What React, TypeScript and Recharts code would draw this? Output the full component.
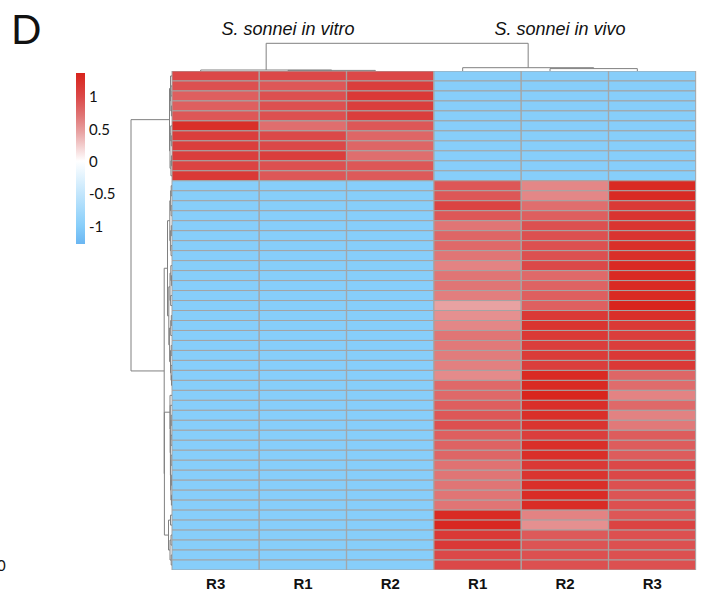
import { BarChart, Bar, XAxis, YAxis, Cell } from "recharts";

// columns of the heatmap (left to right)
const columnKeys = ["vitroR3", "vitroR1", "vitroR2", "vivoR1", "vivoR2", "vivoR3"];
const columnLabels = ["R3", "R1", "R2", "R1", "R2", "R3"];
const groupTitles = ["S. sonnei in vitro", "S. sonnei in vivo"];
const legendTicks = [1, 0.5, 0, -0.5, -1];

// scaled expression per gene row (50 rows, top to bottom)
const vitroR3 = [
  1.0, 0.95, 0.85, 0.85, 0.9, 1.25, 1.1, 1.1, 1.1, 1.05, 1.15,
  -1, -1, -1, -1, -1, -1, -1, -1, -1, -1, -1, -1, -1, -1, -1, -1, -1, -1, -1, -1,
  -1, -1, -1, -1, -1, -1, -1, -1, -1, -1, -1, -1, -1, -1, -1, -1, -1, -1, -1,
];
const vitroR1 = [
  1.0, 0.9, 0.95, 0.95, 0.95, 0.75, 1.0, 1.0, 1.1, 0.95, 0.9,
  -1, -1, -1, -1, -1, -1, -1, -1, -1, -1, -1, -1, -1, -1, -1, -1, -1, -1, -1, -1,
  -1, -1, -1, -1, -1, -1, -1, -1, -1, -1, -1, -1, -1, -1, -1, -1, -1, -1, -1,
];
const vitroR2 = [
  1.0, 1.1, 1.15, 1.1, 1.1, 0.9, 0.8, 0.8, 0.75, 0.9, 0.88,
  -1, -1, -1, -1, -1, -1, -1, -1, -1, -1, -1, -1, -1, -1, -1, -1, -1, -1, -1, -1,
  -1, -1, -1, -1, -1, -1, -1, -1, -1, -1, -1, -1, -1, -1, -1, -1, -1, -1, -1,
];
const vivoR1 = [
  -1, -1, -1, -1, -1, -1, -1, -1, -1, -1, -1,
  0.9, 0.9, 1.05, 0.9, 0.7, 0.8, 0.78, 0.7, 0.62, 0.7,
  0.7, 0.65, 0.45, 0.55, 0.6, 0.7, 0.68, 0.66, 0.64, 0.58,
  0.78, 0.78, 0.85, 0.9, 0.95, 0.85, 0.82, 0.8, 0.72, 0.7,
  0.7, 0.7, 0.7, 1.3, 1.32, 1.15, 1.15, 1.0, 1.0,
];
const vivoR2 = [
  -1, -1, -1, -1, -1, -1, -1, -1, -1, -1, -1,
  0.6, 0.6, 0.75, 0.85, 0.95, 0.95, 0.95, 0.95, 1.0, 0.78,
  0.82, 0.85, 0.84, 1.15, 1.2, 1.15, 1.1, 1.12, 1.1, 1.3,
  1.3, 1.35, 1.25, 1.25, 1.2, 1.1, 1.25, 1.25, 1.15, 1.2,
  1.25, 1.28, 1.28, 0.62, 0.55, 0.88, 0.92, 0.95, 0.95,
];
const vivoR3 = [
  -1, -1, -1, -1, -1, -1, -1, -1, -1, -1, -1,
  1.3, 1.3, 1.15, 1.2, 1.2, 1.2, 1.25, 1.25, 1.3, 1.3,
  1.3, 1.3, 1.35, 1.25, 1.15, 1.1, 1.1, 1.15, 1.15, 0.8,
  0.76, 0.62, 0.78, 0.63, 0.68, 0.87, 0.87, 0.87, 1.0, 1.0,
  0.95, 0.92, 0.95, 0.9, 1.05, 0.95, 0.95, 0.95, 0.95,
];
const columnValues = [vitroR3, vitroR1, vitroR2, vivoR1, vivoR2, vivoR3];
const ROWS = vitroR3.length;

// dendrograms: [height, left, right], leaves are row / column indices
type Node = number | [number, Node, Node];
const colTree: Node = [27.7, [1.0, 0, [0.6, 1, 2]], [3.3, 3, [2.4, 4, 5]]];
const rowTree: Node = [
  41,
  [2.5,
    [1.5, 0, [1.2, [1.0, 1, 2], [0.6, 3, 4]]],
    [2.0, [1.3, 5, [0.7, 6, 7]], [1.1, [0.6, 8, 9], 10]]],
  [7.8,
    [4.5,
      [2.2, [1.4, [0.8, 11, 12], [0.9, 13, 14]], [1.6, [0.7, 15, 16], [1.0, 17, 18]]],
      [3.2,
        [2.0, [1.2, 19, [0.6, 20, 21]], [1.4, 22, 23]],
        [2.4, [1.3, [0.7, 24, 25], 26], [1.5, [0.8, 27, 28], [1.0, 29, [0.5, 30, 31]]]]]],
    [7.6,
      [2.0, 32, [1.8, 33,
        [1.6, [1.2, [0.8, 34, 35], [1.0, 36, 37]], [1.4, [0.9, 38, 39], [1.1, [0.7, 40, 41], [0.6, 42, 43]]]]]],
      [3.5, [1.5, 44, 45], [2.0, [1.0, 46, 47], [0.8, 48, 49]]]]],
];

// plot geometry
const W = 704;
const H = 595;
const LEFT = 172;
const TOP = 71;
const RIGHT = 696;
const BOTTOM = 570;
const COL_W = (RIGHT - LEFT) / 6;
const ROW_H = (BOTTOM - TOP) / ROWS;
const LINE = "#808080";

const colorStops: [number, number[]][] = [
  [-1.3, [106, 182, 242]],
  [-1.0, [135, 206, 250]],
  [-0.5, [195, 230, 252]],
  [0, [255, 255, 255]],
  [0.45, [232, 162, 162]],
  [0.7, [224, 117, 117]],
  [1.0, [219, 72, 72]],
  [1.36, [216, 36, 28]],
];

function heatColor(v: number) {
  const s = colorStops;
  if (v <= s[0][0]) return `rgb(${s[0][1].join(",")})`;
  for (let i = 1; i < s.length; i++) {
    if (v <= s[i][0]) {
      const [v0, c0] = s[i - 1];
      const [v1, c1] = s[i];
      const t = (v - v0) / (v1 - v0);
      const c = c0.map((x, k) => Math.round(x + (c1[k] - x) * t));
      return `rgb(${c.join(",")})`;
    }
  }
  return `rgb(${s[s.length - 1][1].join(",")})`;
}

const chartData = columnKeys.map((key) => {
  const d: Record<string, string | number> = { key };
  for (let i = 0; i < ROWS; i++) d[`r${i}`] = 1;
  return d;
});

type Seg = [number, number, number, number];

function dendro(
  node: Node,
  leafPos: (i: number) => number,
  toPx: (pos: number, h: number) => [number, number],
  segs: Seg[]
): { pos: number; h: number } {
  if (typeof node === "number") return { pos: leafPos(node), h: 0 };
  const [h, a, b] = node;
  const la = dendro(a, leafPos, toPx, segs);
  const lb = dendro(b, leafPos, toPx, segs);
  const p1 = toPx(la.pos, h);
  const p2 = toPx(lb.pos, h);
  segs.push([...p1, ...p2] as Seg);
  segs.push([...p1, ...toPx(la.pos, la.h)] as Seg);
  segs.push([...p2, ...toPx(lb.pos, lb.h)] as Seg);
  return { pos: (la.pos + lb.pos) / 2, h };
}

const rowSegs: Seg[] = [];
dendro(
  rowTree,
  (i) => TOP + ROW_H * (i + 0.5),
  (pos, h) => [LEFT - h, pos],
  rowSegs
);
const colSegs: Seg[] = [];
dendro(
  colTree,
  (j) => LEFT + COL_W * (j + 0.5) - 15,
  (pos, h) => [pos, TOP - h],
  colSegs
);

const CB_TOP = 73;
const CB_BOTTOM = 244;
const CB_MAX = 1.36;
const CB_MIN = -1.28;
const cbY = (v: number) => CB_TOP + ((CB_MAX - v) / (CB_MAX - CB_MIN)) * (CB_BOTTOM - CB_TOP);

function ColumnTick(props: any) {
  const { x, y, index } = props;
  return (
    <text
      x={x}
      y={y}
      dy="0.71em"
      textAnchor="middle"
      fontFamily="'Liberation Sans', Arial, sans-serif"
      fontWeight="bold"
      fontSize={15}
      fill="#111"
    >
      {columnLabels[index]}
    </text>
  );
}

export default function App() {
  return (
    <div style={{ position: "absolute", left: 0, top: 0, width: W, height: H, background: "#fff" }}>
      <BarChart
        width={W}
        height={H}
        data={chartData}
        margin={{ top: TOP, right: W - RIGHT, bottom: 0, left: LEFT }}
        barCategoryGap={0}
        barGap={0}
      >
        <XAxis
          dataKey="key"
          height={H - BOTTOM}
          axisLine={false}
          tickLine={false}
          interval={0}
          tick={<ColumnTick />}
        />
        <YAxis type="number" domain={[0, ROWS]} reversed hide allowDataOverflow />
        {columnValues[0].map((_, i) => (
          <Bar
            key={i}
            dataKey={`r${i}`}
            stackId="heat"
            isAnimationActive={false}
            stroke="#a4a4a4"
            strokeWidth={1}
          >
            {columnKeys.map((k, j) => (
              <Cell key={k} fill={heatColor(columnValues[j][i])} />
            ))}
          </Bar>
        ))}
      </BarChart>
      <svg
        width={W}
        height={H}
        style={{ position: "absolute", left: 0, top: 0, pointerEvents: "none" }}
      >
        <defs>
          <linearGradient id="cb" x1="0" y1="0" x2="0" y2="1">
            {colorStops
              .slice()
              .reverse()
              .map(([v]) => (
                <stop
                  key={v}
                  offset={(CB_MAX - v) / (CB_MAX - CB_MIN)}
                  stopColor={heatColor(v)}
                />
              ))}
          </linearGradient>
        </defs>
        <text x={11} y={44} fontFamily="Lato, sans-serif" fontSize={40} fill="#111">
          D
        </text>
        {groupTitles.map((t, g) => (
          <text
            key={t}
            x={g === 0 ? 288 : 560}
            y={35}
            textAnchor="middle"
            fontFamily="'Liberation Sans', Arial, sans-serif"
            fontStyle="italic"
            fontSize={18}
            fill="#111"
          >
            {t}
          </text>
        ))}
        <rect x={76} y={CB_TOP} width={9} height={CB_BOTTOM - CB_TOP} fill="url(#cb)" />
        {legendTicks.map((v) => (
          <text
            key={v}
            x={89}
            y={cbY(v)}
            dominantBaseline="central"
            fontFamily="Lato, sans-serif"
            fontSize={15}
            fill="#111"
          >
            {String(v)}
          </text>
        ))}
        <text x={-3} y={571} fontFamily="Lato, sans-serif" fontSize={15} fill="#111">
          0
        </text>
        {[...rowSegs, ...colSegs].map(([x1, y1, x2, y2], i) => (
          <line key={i} x1={x1} y1={y1} x2={x2} y2={y2} stroke={LINE} strokeWidth={1} />
        ))}
      </svg>
    </div>
  );
}
